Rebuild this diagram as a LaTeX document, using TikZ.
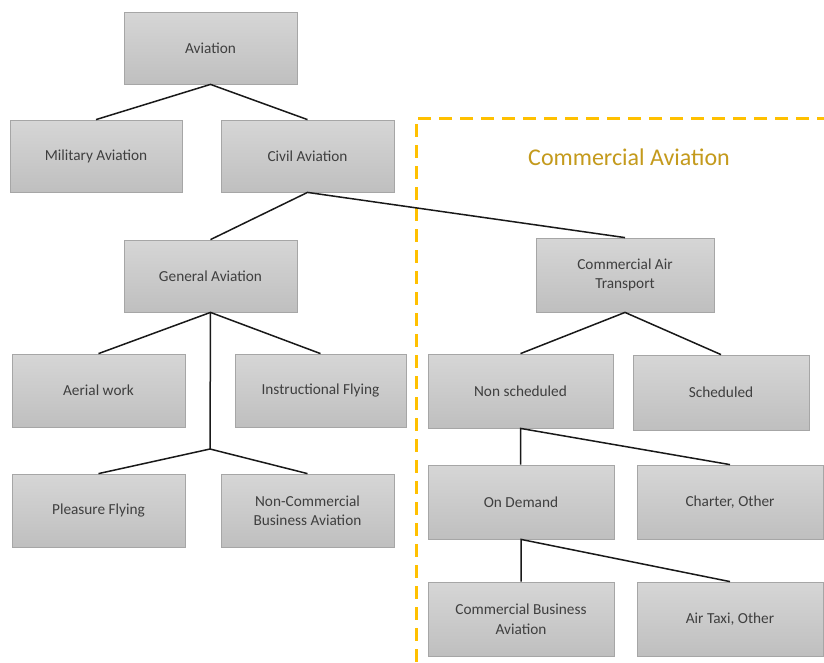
\documentclass[tikz,border=0pt]{standalone}
\usepackage{fontspec}
\setmainfont{Carlito}
\definecolor{boxtop}{HTML}{D6D6D6}
\definecolor{boxbot}{HTML}{BFBFBF}
\definecolor{boxline}{HTML}{A6A6A6}
\definecolor{boxtext}{HTML}{3F3F3F}
\definecolor{zoneline}{HTML}{FFC000}
\definecolor{zonetext}{HTML}{C49A1C}
\tikzset{
  orgbox/.style={draw=boxline, line width=0.8pt, top color=boxtop, bottom color=boxbot,
    text=boxtext, align=center, font=\fontsize{15.3}{19.5}\selectfont, inner sep=2pt},
  link/.style={draw=black!90, line width=1.5pt},
}
\newcommand{\orgnode}[6]{% name, left, top, right, bottom, text
  \node[orgbox, minimum width={#4-#2}, minimum height={#5-#3}] (#1) at ({(#2+#4)/2},{(#3+#5)/2}) {#6};}
\begin{document}
\begin{tikzpicture}[x=1pt,y=-1pt]
\useasboundingbox[fill=white] (0,0) rectangle (824,662);
\begin{scope}
\clip (0,0) rectangle (824,662);
\draw[zoneline, line width=3pt, dash pattern=on 13pt off 8pt] (830,118) -- (416,118) -- (416,680);
\end{scope}
\node[text=zonetext, font=\fontsize{24}{28}\selectfont] (zone) at (629,157) {Commercial Aviation};

\orgnode{av}{124}{12}{297}{84}{Aviation}
\orgnode{mil}{10}{120}{182}{192}{Military Aviation}
\orgnode{civ}{221}{120}{394}{192}{Civil Aviation}
\orgnode{gen}{124}{240}{297}{312}{General Aviation}
\orgnode{cat}{536}{238}{714}{312}{Commercial Air\\Transport}
\orgnode{aer}{12}{354}{185}{427}{Aerial work}
\orgnode{ins}{235}{354}{406}{427}{Instructional Flying}
\orgnode{ple}{12}{474}{185}{547}{Pleasure Flying}
\orgnode{ncb}{221}{474}{394}{547}{Non-Commercial\\Business Aviation}
\orgnode{nsc}{428}{354}{613}{428}{Non scheduled}
\orgnode{sch}{633}{355}{809}{430}{Scheduled}
\orgnode{ond}{428}{465}{614}{539}{On Demand}
\orgnode{cha}{637}{465}{823}{539}{Charter, Other}
\orgnode{cba}{428}{582}{614}{656}{Commercial Business\\Aviation}
\orgnode{ati}{637}{582}{823}{656}{Air Taxi, Other}

\coordinate (genfork) at (210,449);

\draw[link] (mil.north) -- (av.south) -- (civ.north);
\draw[link] (gen.north) -- (civ.south) -- (cat.north);
\draw[link] (aer.north) -- (gen.south) -- (ins.north);
\draw[link] (gen.south) -- (genfork);
\draw[link] (ple.north) -- (genfork) -- (ncb.north);
\draw[link] (nsc.north) -- (cat.south) -- (sch.north);
\draw[link] (ond.north -| nsc.south) -- (nsc.south) -- (cha.north);
\draw[link] (cba.north) -- (ond.south) -- (ati.north);
\end{tikzpicture}
\end{document}
